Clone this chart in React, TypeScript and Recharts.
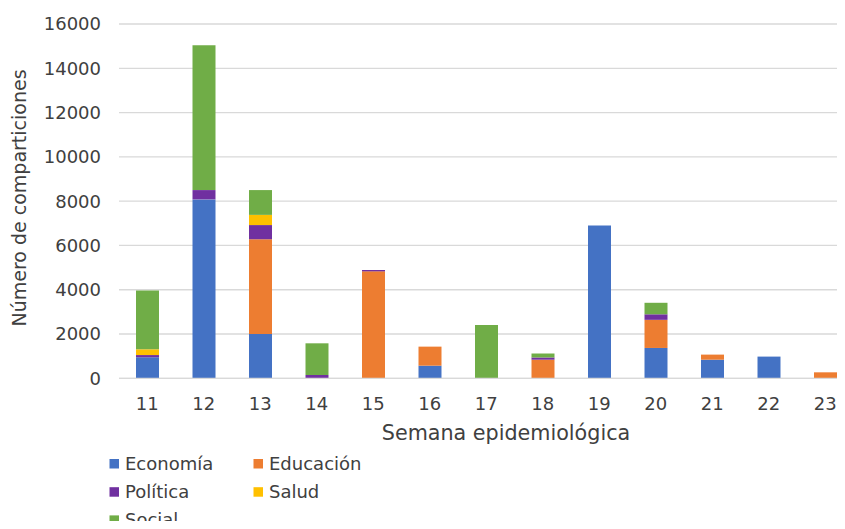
import React from "react";
import { BarChart, Bar, XAxis, YAxis, CartesianGrid, Label } from "recharts";

const weeks = ["11", "12", "13", "14", "15", "16", "17", "18", "19", "20", "21", "22", "23"];
const economia = [950, 8080, 2000, 0, 0, 570, 0, 0, 6900, 1370, 840, 980, 0];
const educacion = [0, 0, 4280, 0, 4830, 860, 0, 840, 0, 1270, 230, 0, 270];
const politica = [100, 420, 640, 150, 60, 0, 0, 100, 0, 250, 0, 0, 0];
const salud = [260, 0, 460, 0, 0, 0, 0, 0, 0, 0, 0, 0, 0];
const social = [2650, 6540, 1120, 1430, 0, 0, 2410, 180, 0, 520, 0, 0, 0];
const yTicks = [0, 2000, 4000, 6000, 8000, 10000, 12000, 14000, 16000];

const seriesNames = ["Economía", "Educación", "Política", "Salud", "Social"];
const seriesKeys = ["economia", "educacion", "politica", "salud", "social"];
const seriesColors = ["#4472C4", "#ED7D31", "#7030A0", "#FFC000", "#70AD47"];
const seriesValues = [economia, educacion, politica, salud, social];

const data = weeks.map((w, i) => {
  const row: Record<string, string | number> = { week: w };
  seriesKeys.forEach((k, s) => {
    row[k] = seriesValues[s][i];
  });
  return row;
});

const FONT = "'DejaVu Sans', Verdana, sans-serif";
const TEXT = "#404040";
const GRID = "#D9D9D9";

function LegendBox() {
  return (
    <svg
      width={845}
      height={529}
      style={{ position: "absolute", left: 0, top: 0, pointerEvents: "none" }}
    >
      {seriesNames.map((name, i) => {
        const col = i % 2;
        const row = Math.floor(i / 2);
        const x = 109.5 + col * 144;
        const base = 470 + row * 28.2;
        return (
          <g key={name}>
            <rect x={x} y={base - 11} width={9.5} height={9.5} fill={seriesColors[i]} />
            <text x={x + 15.5} y={base} fontFamily={FONT} fontSize={18} fill={TEXT}>
              {name}
            </text>
          </g>
        );
      })}
    </svg>
  );
}

export default function App() {
  return (
    <div
      style={{
        position: "relative",
        width: 845,
        height: 529,
        overflow: "hidden",
        margin: -8,
        background: "#fff",
      }}
    >
      <BarChart
        width={870}
        height={529}
        data={data}
        margin={{ top: 24, right: 16.5, left: 0, bottom: 90.7 }}
        barSize={23}
      >
        <CartesianGrid vertical={false} stroke={GRID} strokeWidth={1.3} />
        <XAxis
          dataKey="week"
          height={60}
          axisLine={{ stroke: GRID, strokeWidth: 1.3 }}
          tickLine={false}
          tickMargin={13}
          tick={{ fontFamily: FONT, fontSize: 18, fill: TEXT }}
          interval={0}
        >
          <Label
            content={(props: any) => {
              const vb = props.viewBox || {};
              return (
                <text
                  x={506}
                  y={vb.y + 62}
                  textAnchor="middle"
                  fontFamily={FONT}
                  fontSize={20.7}
                  fill={TEXT}
                >
                  Semana epidemiológica
                </text>
              );
            }}
          />
        </XAxis>
        <YAxis
          width={119}
          domain={[0, 16000]}
          ticks={yTicks}
          interval={0}
          axisLine={false}
          tickLine={false}
          tickMargin={12}
          tick={{ fontFamily: FONT, fontSize: 18, fill: TEXT }}
        >
          <Label
            content={() => (
              <text
                x={0}
                y={0}
                transform="translate(26,198) rotate(-90)"
                textAnchor="middle"
                fontFamily={FONT}
                fontSize={19}
                fill={TEXT}
              >
                Número de comparticiones
              </text>
            )}
          />
        </YAxis>
        {seriesKeys.map((k, i) => (
          <Bar
            key={k}
            dataKey={k}
            name={seriesNames[i]}
            stackId="a"
            fill={seriesColors[i]}
            isAnimationActive={false}
          />
        ))}
      </BarChart>
      <LegendBox />
    </div>
  );
}
